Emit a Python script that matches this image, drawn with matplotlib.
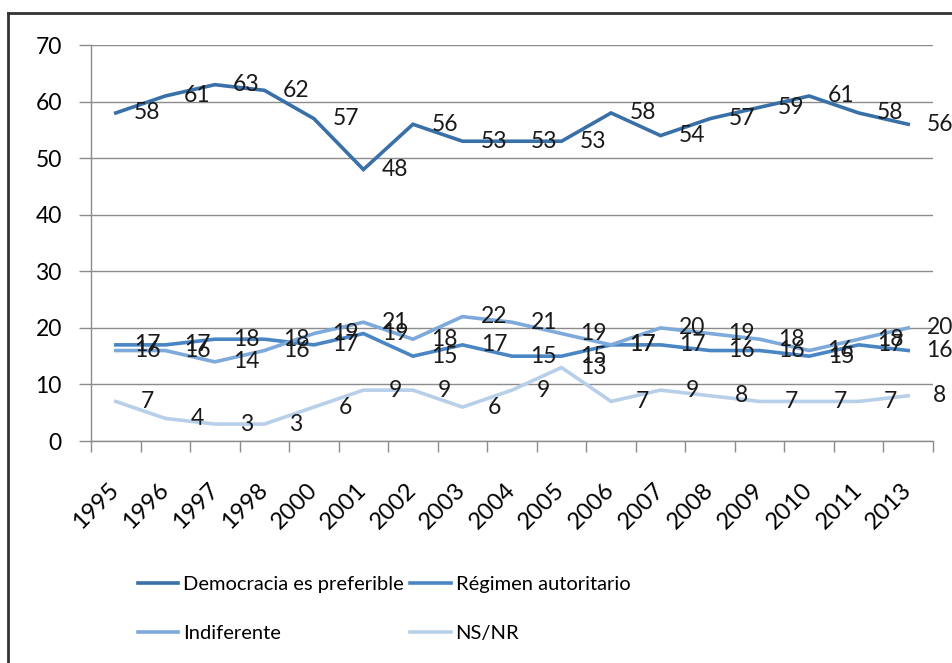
import matplotlib
matplotlib.use('Agg')
import matplotlib.pyplot as plt
from matplotlib.lines import Line2D
import numpy as np

plt.rcParams['font.family'] = ['Lato', 'DejaVu Sans']

# datos
years = ['1995', '1996', '1997', '1998', '2000', '2001', '2002', '2003', '2004',
         '2005', '2006', '2007', '2008', '2009', '2010', '2011', '2013']
democracia = [58, 61, 63, 62, 57, 48, 56, 53, 53, 53, 58, 54, 57, 59, 61, 58, 56]
autoritario = [17, 17, 18, 18, 17, 19, 15, 17, 15, 15, 17, 17, 16, 16, 15, 17, 16]
indiferente = [16, 16, 14, 16, 19, 21, 18, 22, 21, 19, 17, 20, 19, 18, 16, 18, 20]
nsnr = [7, 4, 3, 3, 6, 9, 9, 6, 9, 13, 7, 9, 8, 7, 7, 7, 8]

series_names = ['Democracia es preferible', 'Régimen autoritario', 'Indiferente', 'NS/NR']
series_values = [democracia, autoritario, indiferente, nsnr]
colors = ['#3970A8', '#4A85C4', '#7DAADB', '#B8CFEA']

fig = plt.figure(figsize=(9.53, 6.63), dpi=100)
ax = fig.add_axes([0.0955, 0.3348, 0.8835, 0.5972])

x = np.arange(len(years))
lines = {}
for name, vals, col in zip(series_names, series_values, colors):
    ln, = ax.plot(x, vals, color=col, lw=2.6, solid_joinstyle='miter')
    lines[name] = ln
    # etiquetas desplazadas a la derecha como en el original
    for xi, v in zip(x, vals):
        ax.text(xi + 0.64, v, str(v), ha='center', va='center', fontsize=16.5,
                color='#1a1a1a', clip_on=False)

ax.set_xlim(-0.5, len(years) - 0.5)
ax.set_ylim(0, 70)
ax.set_yticks(range(0, 80, 10))
ax.yaxis.grid(True, color='#8c8c8c', lw=1)
ax.set_axisbelow(True)

ax.set_xticks(x)
ax.set_xticklabels(years, rotation=45, ha='right', rotation_mode='anchor', va='center')
ax.set_xticks(np.arange(-0.5, len(years), 1), minor=True)
ax.tick_params(axis='x', which='major', length=0, pad=33, labelsize=17)
ax.tick_params(axis='x', which='minor', length=8, width=1, color='#8c8c8c')
ax.tick_params(axis='y', length=9, width=1, color='#8c8c8c', pad=12, labelsize=16.5)

for s in ['top', 'right']:
    ax.spines[s].set_visible(False)
for s in ['left', 'bottom']:
    ax.spines[s].set_color('#8c8c8c')
    ax.spines[s].set_linewidth(1)

handles = [lines[series_names[0]], lines[series_names[2]], lines[series_names[1]], lines[series_names[3]]]
labels = [series_names[0], series_names[2], series_names[1], series_names[3]]
fig.legend(handles, labels, loc='upper left', bbox_to_anchor=(0.145, 0.131), ncol=2,
           frameon=False, fontsize=14.5, handlelength=2.0, handletextpad=0.25,
           columnspacing=0.3, labelspacing=1.55, borderpad=0, borderaxespad=0)

# marco del grafico
fx = 8 / 953
fy = 1 - 13 / 663
fig.add_artist(Line2D([fx, 1.0], [fy, fy], color='#333333', lw=2))
fig.add_artist(Line2D([fx, fx], [0.0, fy], color='#333333', lw=2))

fig.savefig('out.png', dpi=100)
